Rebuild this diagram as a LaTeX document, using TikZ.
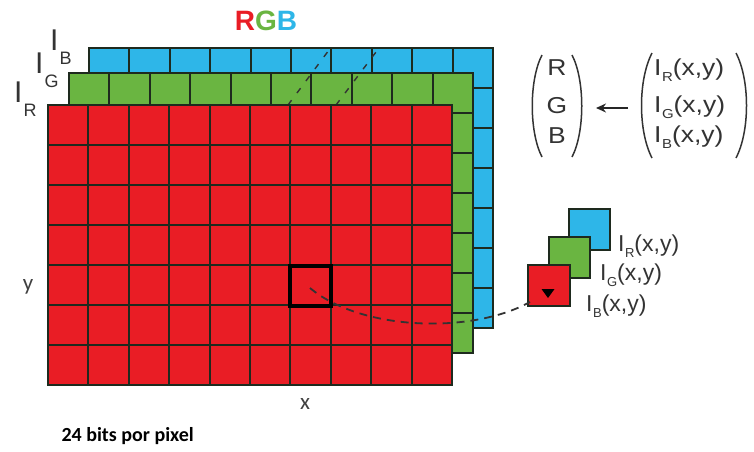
\documentclass[tikz,border=0pt]{standalone}
\usepackage{fontspec}
\setmainfont{Liberation Sans}
\newfontfamily\calfont{Carlito}
\newfontfamily\widefont[FakeStretch=1.15]{Liberation Sans}
\usetikzlibrary{arrows.meta}
\definecolor{myred}{HTML}{E91D25}
\definecolor{mygreen}{HTML}{6AB541}
\definecolor{myblue}{HTML}{2EB6E8}
\definecolor{gline}{HTML}{1E2A1E}
\tikzset{
  gl/.style={draw=gline, line width=1.9pt},
  lab/.style={inner sep=0pt, anchor=base west, text=black!80},
  paren/.style={draw=black!80, line width=1.5pt},
  dsh/.style={draw=black!80, line width=1.8pt, dash pattern=on 8pt off 6pt},
}
\newcommand\layer[3]{%
  \fill[#3] (#1,#2) rectangle ++(404,280);
  \foreach \i in {1,...,9} \draw[gl] ({#1+\i*40.4},#2) -- ++(0,280);
  \foreach \j in {1,...,6} \draw[gl] (#1,{#2+\j*40}) -- ++(404,0);
  \draw[gl] (#1,#2) rectangle ++(404,280);
}
\newcommand\Isub[1]{I\kern0.5pt\raisebox{-6pt}{\fontsize{13}{13}\selectfont #1}}
\newcommand\Ibig[1]{{\fontsize{30}{30}\selectfont I}\kern1pt\raisebox{-14pt}{\fontsize{18}{18}\selectfont #1}}
\begin{document}
\begin{tikzpicture}[x=1pt,y=-1pt]
\useasboundingbox (0,0) rectangle (754,451);
% title
\node[font=\fontsize{28}{28}\selectfont\bfseries] (title) at (266,21)
  {\textcolor{myred}{R}\textcolor{mygreen}{G}\textcolor{myblue}{B}};
% layers
\layer{89}{48}{myblue}
\layer{69}{73}{mygreen}
\coordinate (da1) at (288,105); \coordinate (da2) at (329,50);
\coordinate (db1) at (336,105); \coordinate (db2) at (376,52);
\draw[dsh, line width=1.4pt, dash pattern=on 6pt off 9pt] (da1) -- (da2);
\draw[dsh, line width=1.4pt, dash pattern=on 6pt off 9pt] (db1) -- (db2);
\layer{48}{105}{myred}
% highlighted pixel
\draw[draw=black, line width=4pt] (290.4,265.5) rectangle (331,305.5);
\coordinate (pix) at (310,288);
% layer labels
\node[lab] (lb) at (50,50) {\Ibig{B}};
\node[lab] (lg) at (35,73) {\Ibig{G}};
\node[lab] (lr) at (14,102) {\Ibig{R}};
% axis labels
\node[font=\calfont\fontsize{23}{23}\selectfont, text=black!75] (ylab) at (28,287) {y};
\node[font=\calfont\fontsize{23}{23}\selectfont, text=black!75] (xlab) at (305,404) {x};
\node[font=\calfont\bfseries\fontsize{20}{20}\selectfont, anchor=west] (bits) at (58,436) {24 bits por pixel};
% small pixel stack
\draw[gl, fill=myblue, line width=1.3pt] (569,209) rectangle (610,250);
\draw[gl, fill=mygreen, line width=1.3pt] (549,237) rectangle (590,278);
\draw[gl, fill=myred, line width=1.3pt] (528,265) rectangle (570,306);
\fill[black] (541.5,289) -- (554.5,289) -- (548,298) -- cycle;
\coordinate (send) at (530,302);
\draw[dsh] (pix) .. controls (360,330) and (470,335) .. (send);
% labels for small pixel
\node[lab, font=\fontsize{23}{23}\selectfont] (ir) at (618,251) {\Isub{R}(x,y)};
\node[lab, font=\fontsize{23}{23}\selectfont] (ig) at (600,280) {\Isub{G}(x,y)};
\node[lab, font=\fontsize{23}{23}\selectfont] (ib) at (586,311) {\Isub{B}(x,y)};
% matrices
\node[font=\widefont\fontsize{23}{23}\selectfont, text=black!80] (mR) at (557,68) {R};
\node[font=\widefont\fontsize{23}{23}\selectfont, text=black!80] (mG) at (557,106) {G};
\node[font=\widefont\fontsize{23}{23}\selectfont, text=black!80] (mB) at (557,136) {B};
\draw[paren] (542,55) .. controls (529,80) and (529,132) .. (542,157);
\draw[paren] (572,55) .. controls (585,80) and (585,132) .. (572,157);
\node[lab, font=\widefont\fontsize{23}{23}\selectfont] (rR) at (654,75) {\Isub{R}(x,y)};
\node[lab, font=\widefont\fontsize{23}{23}\selectfont] (rG) at (654,112) {\Isub{G}(x,y)};
\node[lab, font=\widefont\fontsize{23}{23}\selectfont] (rB) at (654,142) {\Isub{B}(x,y)};
\draw[paren] (652,53) .. controls (638,80) and (638,131) .. (652,158);
\draw[paren] (736,53) .. controls (750,80) and (750,131) .. (736,158);
\coordinate (arS) at (628,108);
\coordinate (arE) at (596,108);
\draw[line width=1.6pt, draw=black!85, -{Stealth[length=10pt,width=9pt]}] (arS) -- (arE);
\end{tikzpicture}
\end{document}
